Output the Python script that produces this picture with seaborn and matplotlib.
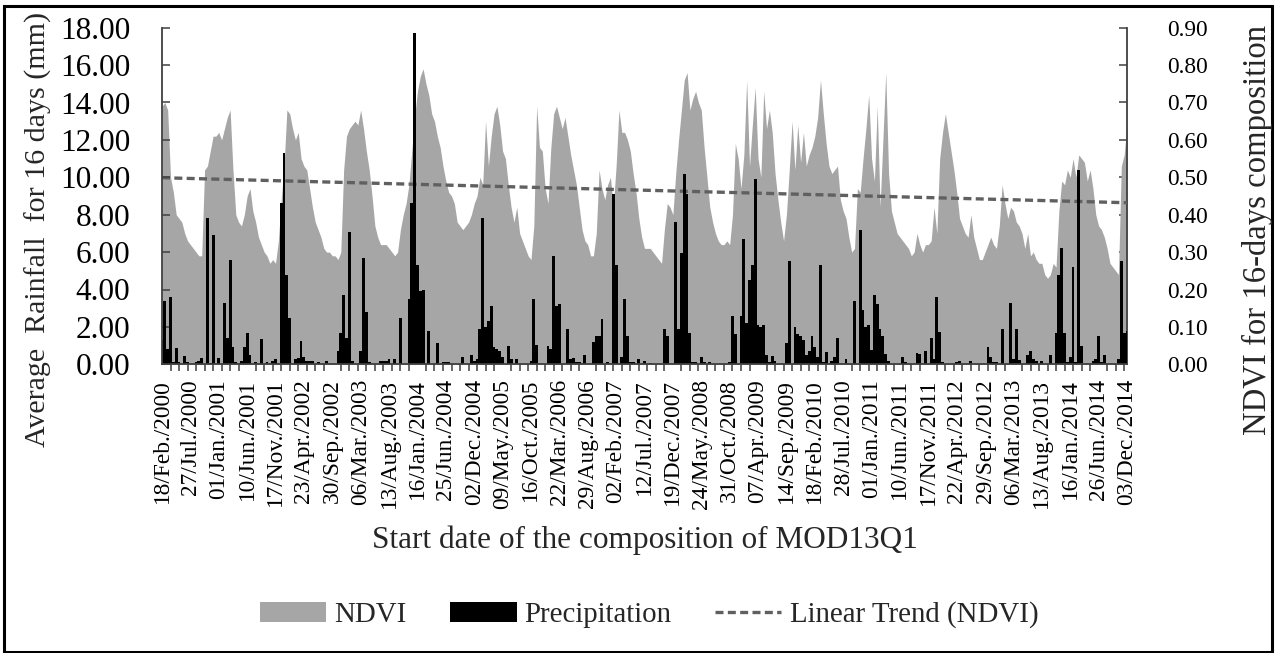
import numpy as np
import matplotlib
matplotlib.use("Agg")
import matplotlib.pyplot as plt
import seaborn as sns
from matplotlib.patches import Patch, Rectangle
from matplotlib.lines import Line2D
from matplotlib.ticker import FormatStrFormatter, FixedLocator

# ---------------- DATA ----------------
tick_labels = [
    "18/Feb./2000", "27/Jul./2000", "01/Jan./2001", "10/Jun./2001", "17/Nov./2001",
    "23/Apr./2002", "30/Sep./2002", "06/Mar./2003", "13/Aug./2003", "16/Jan./2004",
    "25/Jun./2004", "02/Dec./2004", "09/May./2005", "16/Oct./2005", "22/Mar./2006",
    "29/Aug./2006", "02/Feb./2007", "12/Jul./2007", "19/Dec./2007", "24/May./2008",
    "31/Oct./2008", "07/Apr./2009", "14/Sep./2009", "18/Feb./2010", "28/Jul./2010",
    "01/Jan./2011", "10/Jun./2011", "17/Nov./2011", "22/Apr./2012", "29/Sep./2012",
    "06/Mar./2013", "13/Aug./2013", "16/Jan./2014", "26/Jun./2014", "03/Dec./2014",
]

# NDVI of each 16-day composition (341 compositions, 18/Feb/2000 .. 03/Dec/2014)
ndvi = [
    0.69, 0.70, 0.68, 0.50, 0.46, 0.40, 0.39, 0.38, 0.35, 0.33,
    0.32, 0.31, 0.30, 0.29, 0.29, 0.52, 0.53, 0.57, 0.61, 0.61,
    0.62, 0.60, 0.63, 0.66, 0.68, 0.52, 0.40, 0.38, 0.37, 0.40,
    0.45, 0.47, 0.41, 0.38, 0.34, 0.32, 0.30, 0.29, 0.27, 0.28,
    0.27, 0.33, 0.44, 0.53, 0.68, 0.67, 0.63, 0.60, 0.62, 0.55,
    0.53, 0.52, 0.47, 0.42, 0.38, 0.36, 0.34, 0.31, 0.30, 0.30,
    0.29, 0.29, 0.28, 0.30, 0.52, 0.61, 0.63, 0.64, 0.65, 0.64,
    0.68, 0.63, 0.57, 0.52, 0.45, 0.37, 0.34, 0.32, 0.32, 0.32,
    0.31, 0.30, 0.29, 0.30, 0.36, 0.40, 0.43, 0.48, 0.57, 0.66,
    0.73, 0.77, 0.79, 0.75, 0.72, 0.67, 0.65, 0.61, 0.58, 0.53,
    0.49, 0.46, 0.45, 0.43, 0.38, 0.37, 0.36, 0.37, 0.38, 0.40,
    0.43, 0.45, 0.50, 0.48, 0.65, 0.53, 0.61, 0.67, 0.69, 0.64,
    0.57, 0.55, 0.48, 0.42, 0.38, 0.42, 0.35, 0.33, 0.31, 0.29,
    0.28, 0.37, 0.69, 0.58, 0.57, 0.47, 0.43, 0.58, 0.67, 0.69,
    0.66, 0.63, 0.66, 0.61, 0.56, 0.52, 0.48, 0.42, 0.36, 0.33,
    0.32, 0.29, 0.29, 0.35, 0.52, 0.47, 0.44, 0.48, 0.50, 0.42,
    0.53, 0.68, 0.62, 0.62, 0.60, 0.57, 0.51, 0.46, 0.39, 0.34,
    0.31, 0.31, 0.31, 0.30, 0.29, 0.28, 0.27, 0.36, 0.43, 0.42,
    0.40, 0.51, 0.60, 0.68, 0.76, 0.78, 0.68, 0.71, 0.73, 0.70,
    0.68, 0.58, 0.50, 0.42, 0.38, 0.35, 0.33, 0.32, 0.32, 0.33,
    0.32, 0.40, 0.59, 0.55, 0.47, 0.56, 0.76, 0.53, 0.64, 0.74,
    0.55, 0.50, 0.73, 0.63, 0.68, 0.62, 0.51, 0.44, 0.38, 0.33,
    0.40, 0.52, 0.65, 0.52, 0.64, 0.54, 0.62, 0.53, 0.56, 0.58,
    0.61, 0.66, 0.76, 0.67, 0.59, 0.53, 0.51, 0.52, 0.53, 0.44,
    0.41, 0.39, 0.34, 0.30, 0.31, 0.47, 0.46, 0.55, 0.63, 0.72,
    0.55, 0.49, 0.69, 0.42, 0.60, 0.78, 0.51, 0.41, 0.38, 0.35,
    0.34, 0.33, 0.32, 0.31, 0.29, 0.30, 0.35, 0.32, 0.30, 0.32,
    0.32, 0.33, 0.42, 0.35, 0.55, 0.62, 0.67, 0.62, 0.57, 0.52,
    0.46, 0.39, 0.37, 0.35, 0.34, 0.40, 0.34, 0.31, 0.28, 0.28,
    0.30, 0.32, 0.34, 0.32, 0.31, 0.37, 0.48, 0.43, 0.39, 0.42,
    0.41, 0.38, 0.37, 0.35, 0.31, 0.35, 0.29, 0.30, 0.28, 0.27,
    0.27, 0.24, 0.23, 0.24, 0.27, 0.26, 0.41, 0.49, 0.48, 0.52,
    0.50, 0.55, 0.50, 0.56, 0.55, 0.54, 0.49, 0.52, 0.47, 0.40,
    0.37, 0.36, 0.34, 0.31, 0.27, 0.26, 0.25, 0.24, 0.53, 0.56,
    0.64,
]

# Average rainfall for 16 days (mm)
precipitation = [
    1.3, 3.4, 0.8, 3.6, 0.1, 0.85, 0.1, 0.0, 0.45, 0.1,
    0.0, 0.0, 0.1, 0.2, 0.35, 0.0, 7.8, 0.05, 6.9, 0.0,
    0.35, 0.0, 3.3, 1.4, 5.6, 0.95, 0.1, 0.0, 0.2, 0.9,
    1.7, 0.5, 0.0, 0.1, 0.0, 1.35, 0.0, 0.1, 0.0, 0.2,
    0.3, 0.0, 8.6, 11.3, 4.8, 2.5, 0.0, 0.3, 0.35, 1.25,
    0.4, 0.2, 0.2, 0.2, 0.0, 0.1, 0.0, 0.0, 0.15, 0.0,
    0.0, 0.0, 0.7, 1.7, 3.7, 1.4, 7.1, 0.15, 0.0, 0.0,
    0.7, 5.7, 2.8, 0.1, 0.0, 0.0, 0.0, 0.15, 0.15, 0.15,
    0.3, 0.0, 0.3, 0.0, 2.5, 0.0, 0.0, 3.5, 8.6, 17.7,
    5.3, 3.9, 4.0, 0.0, 1.8, 0.0, 0.0, 1.15, 0.0, 0.1,
    0.1, 0.1, 0.0, 0.0, 0.0, 0.0, 0.4, 0.0, 0.0, 0.5,
    0.2, 0.3, 1.9, 7.8, 2.0, 2.3, 3.1, 0.9, 0.8, 0.7,
    0.4, 0.0, 1.0, 0.3, 0.0, 0.3, 0.0, 0.0, 0.0, 0.0,
    0.2, 3.5, 1.05, 0.0, 0.0, 0.0, 1.0, 0.8, 5.8, 3.1,
    3.2, 0.0, 0.0, 1.9, 0.3, 0.35, 0.1, 0.1, 0.0, 0.5,
    0.0, 0.0, 1.2, 1.5, 1.5, 2.4, 0.0, 0.1, 0.0, 9.1,
    5.3, 0.0, 0.4, 3.5, 1.5, 0.1, 0.1, 0.0, 0.3, 0.0,
    0.2, 0.0, 0.05, 0.0, 0.0, 0.0, 0.0, 1.9, 1.5, 0.0,
    0.0, 7.6, 1.9, 5.95, 10.2, 9.1, 1.7, 0.1, 0.1, 0.0,
    0.4, 0.1, 0.0, 0.1, 0.0, 0.0, 0.0, 0.0, 0.0, 0.0,
    0.1, 2.6, 1.6, 0.0, 2.6, 6.7, 2.2, 4.5, 5.3, 9.9,
    2.1, 2.0, 2.1, 0.5, 0.1, 0.45, 0.2, 0.0, 0.0, 0.0,
    1.15, 5.5, 0.0, 2.0, 1.6, 1.5, 1.3, 0.5, 0.7, 1.5,
    0.9, 0.4, 5.3, 0.1, 0.65, 0.0, 0.2, 0.4, 1.4, 0.0,
    0.0, 0.3, 0.0, 0.0, 3.4, 0.0, 7.2, 2.9, 2.0, 2.1,
    0.75, 3.7, 3.2, 1.9, 1.5, 0.55, 0.2, 0.0, 0.0, 0.0,
    0.0, 0.4, 0.1, 0.0, 0.0, 0.0, 0.6, 0.55, 0.0, 0.7,
    0.0, 1.4, 0.3, 3.6, 1.75, 0.1, 0.0, 0.0, 0.0, 0.0,
    0.1, 0.15, 0.0, 0.0, 0.0, 0.15, 0.0, 0.0, 0.0, 0.0,
    0.0, 0.9, 0.4, 0.1, 0.1, 0.0, 1.9, 0.0, 0.0, 3.3,
    0.3, 1.9, 0.25, 0.0, 0.0, 0.5, 0.7, 0.3, 0.2, 0.0,
    0.2, 0.0, 0.0, 0.5, 0.0, 1.7, 4.8, 6.2, 1.7, 0.1,
    0.4, 5.2, 0.1, 10.4, 1.0, 0.0, 0.0, 0.0, 0.2, 0.3,
    1.5, 0.1, 0.5, 0.0, 0.0, 0.0, 0.0, 0.3, 5.5, 1.7,
    1.8,
]

# ---------------- STYLE ----------------
sns.set_theme(style="white")
plt.rcParams["font.family"] = ["Liberation Serif", "DejaVu Serif"]

W, H = 1275, 653
fig = plt.figure(figsize=(W / 100, H / 100), dpi=100)
fig.patch.set_facecolor("white")

ax_l, ax_r, ax_t, ax_b = 162, 1127, 27.7, 364.3
ax = fig.add_axes([ax_l / W, 1 - ax_b / H, (ax_r - ax_l) / W, (ax_b - ax_t) / H])
ax2 = ax.twinx()

n = len(ndvi)
idx = np.arange(n)
ndvi_arr = np.array(ndvi)
prec_arr = np.array(precipitation)

GRAY = "#a6a6a6"
TREND = "#606060"

# NDVI area on secondary axis
ax2.fill_between(idx, ndvi_arr, 0, color=GRAY, lw=0, zorder=1)

# Linear trend of NDVI
coef = np.polyfit(idx, ndvi_arr, 1)
trend = np.polyval(coef, idx)
sns.lineplot(x=idx, y=trend, ax=ax2, color=TREND, lw=2.4, zorder=3)
ax2.lines[-1].set_dashes((2.4, 1.3))

# Precipitation bars on primary axis (drawn above the area)
sns.barplot(x=idx, y=prec_arr, native_scale=True, color="black", saturation=1,
            width=1.0, errorbar=None, linewidth=0, ax=ax)
ax.set_zorder(ax2.get_zorder() + 1)
ax.patch.set_visible(False)

ax.set_xlim(0, n - 1)
ax.set_ylim(0, 18)
ax2.set_ylim(0, 0.9)

ax.set_yticks(np.arange(0, 18.01, 2))
ax.yaxis.set_major_formatter(FormatStrFormatter("%.2f"))
ax2.set_yticks(np.arange(0, 0.901, 0.1))
ax2.yaxis.set_major_formatter(FormatStrFormatter("%.2f"))

ax.set_xticks(np.arange(0, n, 10))
ax.set_xticklabels(tick_labels, rotation=90, fontsize=16.8)
ax.xaxis.set_minor_locator(FixedLocator(np.arange(0, n, 3)))
ax.tick_params(axis="x", which="major", length=0, pad=10.5, colors="black")
ax.tick_params(axis="x", which="minor", length=5.2, width=1.1, direction="out",
               color="#404040", bottom=True)
ax.tick_params(axis="y", which="major", length=5.5, width=1.1, direction="in",
               color="#404040", labelsize=22.5, pad=23, labelcolor="black", left=True)
ax2.tick_params(axis="y", which="major", length=5.5, width=1.1, direction="in",
                color="#404040", labelsize=16.8, pad=29, labelcolor="black", right=True)
ax.set_xlabel("")
ax.set_ylabel("")
ax2.set_ylabel("")

for a in (ax, ax2):
    for s in a.spines.values():
        s.set_visible(False)
ax.spines["left"].set_visible(True)
ax.spines["bottom"].set_visible(True)
ax2.spines["right"].set_visible(True)
for s in (ax.spines["left"], ax.spines["bottom"], ax2.spines["right"]):
    s.set_color("#404040")
    s.set_linewidth(1.3)
ax.grid(False)
ax2.grid(False)

# Titles
fig.text(38 / W, 1 - 229 / H, "Average  Rainfall  for 16 days (mm)", rotation=90,
         ha="center", va="center", fontsize=21.6)
fig.text(1257 / W, 1 - 230 / H, "NDVI for 16-days composition", rotation=90,
         ha="center", va="center", fontsize=23.6)
fig.text(645 / W, 1 - 548 / H, "Start date of the composition of MOD13Q1",
         ha="center", va="baseline", fontsize=22.5)

# Legend
handles = [
    Patch(facecolor=GRAY, edgecolor="none", label="NDVI"),
    Patch(facecolor="black", edgecolor="none", label="Precipitation"),
    Line2D([0], [0], color=TREND, lw=2.4, dashes=(2.4, 1.3), label="Linear Trend (NDVI)"),
]
fig.legend(handles=handles, loc="center", bbox_to_anchor=(649 / W, 1 - 615 / H),
           ncol=3, frameon=False, fontsize=20.8, handlelength=2.3, handleheight=0.68,
           handletextpad=0.28, columnspacing=1.5)

# Chart border
fig.add_artist(Rectangle((4 / W, 1 / H), (W - 7) / W, (H - 7) / H,
                         transform=fig.transFigure, fill=False, ec="black", lw=2.2))

fig.savefig("out.png", dpi=100)
